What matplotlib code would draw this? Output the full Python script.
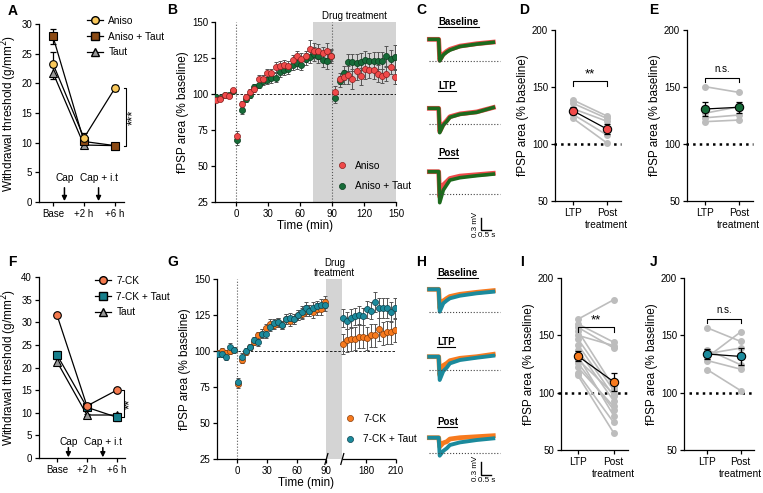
import numpy as np
import matplotlib
matplotlib.use('Agg')
import matplotlib.pyplot as plt
from matplotlib.lines import Line2D

plt.rcParams['font.family'] = ['Liberation Sans', 'DejaVu Sans']
plt.rcParams['font.size'] = 7
plt.rcParams['axes.linewidth'] = 0.9
plt.rcParams['xtick.major.size'] = 3
plt.rcParams['ytick.major.size'] = 3
plt.rcParams['xtick.major.width'] = 0.9
plt.rcParams['ytick.major.width'] = 0.9
plt.rcParams['xtick.major.pad'] = 2
plt.rcParams['ytick.major.pad'] = 2

W, H = 763, 493

################################################################
########################## Data ################################
################################################################

# A / F : withdrawal threshold
beh_labels = ['Base', '+2 h', '+6 h']
a_aniso = [23.3, 10.8, 19.2]
a_aniso_err = [2.0, 0.8, 0.5]
a_aniso_taut = [27.9, 10.2, 9.5]
a_aniso_taut_err = [1.2, 0.6, 0.4]
a_taut = [21.8, 9.6, 9.5]
a_taut_err = [1.0, 0.4, 0.4]

f_ck = [31.6, 11.5, 15.0]
f_ck_err = [0.5, 0.5, 0.5]
f_ck_taut = [22.8, 11.2, 9.0]
f_ck_taut_err = [0.8, 0.6, 0.8]
f_taut = [21.3, 9.5, 9.5]
f_taut_err = [0.5, 0.3, 0.5]

# B : time course (min)
b_t_pre = list(range(-19, 0, 4)) + list(range(1, 90, 4))
b_t_post = list(range(93, 150, 4))
b_aniso = [96.1, 96.5, 99.5, 98.4, 102.5,
           70.6, 92.8, 97.7, 101.6, 103.7, 110.4, 110.4, 114.6, 114.6, 119.0,
           119.2, 120.1, 119.2, 123.8, 126.2, 124.3, 126.2, 131.2, 130.1, 129.6,
           128.5, 130.1, 126.6,
           101.6, 110.6, 111.8, 113.2, 110.4, 115.7, 112.3, 117.6, 116.9, 116.4,
           114.1, 112.3, 113.9, 119.0, 111.8]
b_aniso_err = [1.5, 1.5, 1.5, 1.5, 1.5,
               3.5, 2.5, 2, 2, 2, 2.5, 2.5, 3, 3, 3.5, 3.5, 3.5, 3.5, 3.5, 4,
               4, 4, 6, 5, 5, 4, 5, 4,
               4, 4, 5, 6, 7, 6, 6, 7, 6, 6, 6, 5, 5, 5, 5]
b_aniso_taut = [97.7, 97.0, 99.1, 99.1, 102.1,
                67.8, 88.7, 96.5, 99.5, 104.9, 106.5, 108.8, 110.0, 110.9, 111.3,
                115.0, 116.9, 117.4, 120.1, 121.5, 120.4, 124.3, 125.7, 127.8, 126.6,
                123.8, 122.7, 126.2,
                97.2, 108.8, 114.6, 122.0, 122.0, 121.5, 122.5, 123.8, 122.7, 122.9,
                123.1, 123.1, 126.2, 124.3, 125.7]
b_aniso_taut_err = [1.5, 1.5, 1.5, 1.5, 1.5,
                    3, 2.5, 2, 2, 2, 2.5, 2.5, 3, 3, 3, 3.5, 3.5, 3.5, 3.5, 4,
                    4, 4, 4, 5, 5, 5, 5, 5,
                    3.5, 4, 5, 6, 6, 6, 6, 6, 6, 6, 6, 6, 7, 6, 8]

# G : time course, second segment after the axis break
g_t_pre = list(range(-19, 0, 4)) + list(range(1, 90, 4))
g_t_post = list(range(157, 210, 4))
g_ck = [98.5, 100, 98.5, 100, 101,
        77, 94, 99, 103, 106, 111, 112, 116, 119, 118, 120, 118, 122, 121,
        122, 125, 126, 128, 128, 127, 129, 129, 134,
        105, 107.5, 108, 108.5, 110, 110, 109, 111, 111, 115, 112, 113, 113, 114.5]
g_ck_err = [2, 2, 2, 2, 2,
            3, 2.5, 2, 2, 2, 2.5, 3, 3, 3, 3, 3, 3, 3.5, 3.5, 3.5, 3.5, 4,
            4, 4, 4, 4, 4, 4,
            7, 8, 8, 8, 8, 8, 8, 8, 8, 8, 8, 8, 8, 8]
g_ck_taut = [98, 98, 96, 103, 101,
             78.5, 96, 100, 102.5, 107.5, 106, 112, 112, 117, 119.5, 120, 118,
             122, 123, 122, 125, 127, 130, 128, 130, 131, 132, 132,
             123, 121, 123, 124, 125, 124, 129, 128, 134, 130, 130, 130, 127, 130]
g_ck_taut_err = [2, 2, 2, 2.5, 2,
                 2.5, 2.5, 2, 2, 2, 2.5, 3, 3, 3, 3, 3, 3, 3.5, 3.5, 3.5, 3.5,
                 4, 4, 4, 4, 4, 4, 4,
                 6, 6, 6, 6, 6, 6, 6, 6, 7, 7, 7, 7, 7, 7]
G_GAP = 50  # minutes removed by the axis break

# D, E, I, J : paired LTP vs post treatment
pair_labels = ['LTP', 'Post\ntreatment']
d_ltp = [138.6, 135.7, 131.0, 126.0, 122.5]
d_post = [124.6, 122.5, 120.0, 108.0, 101.0]
d_mean = [129.2, 113.2]
d_err = [3.0, 4.5]

e_ltp = [150.3, 127.0, 123.0, 119.6]
e_post = [145.3, 132.7, 125.4, 121.0]
e_mean = [130.7, 132.2]
e_err = [6.0, 5.0]

i_ltp = [164, 160, 157, 154, 150, 147, 142, 137, 129, 126, 122, 117, 115, 132]
i_post = [181, 144, 139, 105, 141, 102, 97, 93, 99, 85, 88, 74, 65, 80]
i_mean = [132.0, 109.5]
i_err = [4.0, 8.0]

j_ltp = [156.5, 131.0, 134.0, 137.5, 128.0, 120.0]
j_post = [144.7, 153.0, 138.9, 124.3, 120.5, 101.8]
j_mean = [133.7, 131.6]
j_err = [4.5, 7.5]

# C / H : example traces (s, mV relative to pre-stimulus level)
tr_t = [0.0, 0.47, 0.52, 0.7, 0.87, 1.03, 1.53, 2.37, 3.2]
c_base_aniso = [0, 0, -0.52, -0.37, -0.30, -0.25, -0.17, -0.11, -0.07]
c_base_taut = [0, 0, -0.54, -0.39, -0.32, -0.27, -0.18, -0.12, -0.075]
c_ltp_aniso = [0, 0, -0.58, -0.40, -0.31, -0.21, -0.14, -0.09, 0.02]
c_ltp_taut = [0, 0, -0.61, -0.42, -0.33, -0.225, -0.15, -0.10, 0.02]
c_post_aniso = [0, 0, -0.625, -0.33, -0.25, -0.17, -0.11, -0.075, -0.04]
c_post_taut = [0, 0, -0.775, -0.46, -0.33, -0.21, -0.15, -0.10, -0.06]
c_dots = [-0.54, -0.39, -0.567]

h_base_ck = [0, 0, -0.475, -0.29, -0.23, -0.18, -0.125, -0.075, -0.033]
h_base_taut = [0, 0, -0.56, -0.35, -0.28, -0.225, -0.16, -0.10, -0.06]
h_ltp_ck = [0, 0, -0.46, -0.22, -0.167, -0.10, -0.04, 0.0, 0.06]
h_ltp_taut = [0, 0, -0.583, -0.36, -0.275, -0.167, -0.083, -0.025, 0.025]
h_post_ck = [0, 0, -0.225, -0.13, -0.10, -0.033, 0.0, 0.025, 0.05]
h_post_taut = [0, 0, -0.45, -0.33, -0.267, -0.183, -0.117, -0.058, -0.017]
h_dots = [-0.56, -0.333, -0.375]

# colours
c_yellow = '#f9c85a'
c_brown = '#8b4a14'
c_gray_tri = '#9a9a9a'
c_red = '#f04a4a'
c_green = '#166b38'
c_coral = '#f57a4e'
c_teal = '#177f8c'
c_orange = '#f77a1e'
c_teal2 = '#1b8a9c'
c_shade = '#d4d4d4'
c_indiv = '#bdbdbd'

################################################################
######################### Functions ############################
################################################################

fig = plt.figure(figsize=(W / 100, H / 100), dpi=100)


def axpx(l, t, r, b):
    return fig.add_axes([l / W, 1 - b / H, (r - l) / W, (b - t) / H])


def fx(px):
    return px / W


def fy(py):
    return 1 - py / H


def clean(ax):
    ax.spines['top'].set_visible(False)
    ax.spines['right'].set_visible(False)
    ax.tick_params(labelsize=7)


def letter(px, py, s):
    fig.text(fx(px), fy(py), s, fontsize=10, fontweight='bold', va='center')


def behaviour(ax, series, xlim, ymax, step):
    for vals, err, mk, col in series:
        ax.errorbar(range(3), vals, yerr=err, fmt='-', color='k', lw=0.9,
                    capsize=2, elinewidth=0.9, capthick=0.9, zorder=2)
        ax.plot(range(3), vals, mk, mfc=col, mec='k', mew=0.8, ms=5.5,
                zorder=3)
    ax.set_xlim(*xlim)
    ax.set_ylim(0, ymax)
    ax.set_yticks(np.arange(0, ymax + 1, step))
    ax.set_xticks(range(3))
    ax.set_xticklabels(beh_labels)
    ax.set_ylabel('Withdrawal threshold (g/mm$^2$)', fontsize=8.5, labelpad=2)
    clean(ax)


def arrow(ax, x, txt, ytext, ytop):
    ax.annotate('', xy=(x, 0.15), xytext=(x, ytop),
                arrowprops=dict(arrowstyle='-|>', color='k', lw=1.1,
                                mutation_scale=7, shrinkA=0, shrinkB=0))
    ax.text(x, ytext, txt, ha='center', va='center', fontsize=7.3)


def bracket_v(ax, x, y0, y1, txt, xt):
    ax.plot([x - 0.07, x, x, x - 0.07], [y0, y0, y1, y1], color='k', lw=0.8,
            clip_on=False)
    ax.text(xt, (y0 + y1) / 2, txt, rotation=90, ha='center', va='center',
            fontsize=9.5)


def paired(ax, ltp, post, mean, err, col, ybr, txt, xr):
    for a, b in zip(ltp, post):
        ax.plot([0, 1], [a, b], '-o', color=c_indiv, ms=4, lw=1.2, zorder=1)
    ax.plot([-0.55, xr], [100, 100], ':', color='k', lw=1.8, zorder=0,
            clip_on=False)
    ax.errorbar([0, 1], mean, yerr=err, fmt='-', color='k', lw=0.9,
                capsize=2.5, elinewidth=0.9, capthick=0.9, zorder=3)
    ax.plot([0, 1], mean, 'o', mfc=col, mec='k', mew=0.8, ms=6, zorder=4)
    ax.plot([0, 0, 1, 1], [ybr - 4, ybr, ybr, ybr - 4], color='k', lw=0.8)
    if txt == 'n.s.':
        ax.text(0.5, ybr + 3, txt, ha='center', va='bottom', fontsize=7)
    else:
        ax.text(0.5, ybr + 1, txt, ha='center', va='bottom', fontsize=9.5)
    ax.set_ylim(50, 200)
    ax.set_yticks([50, 100, 150, 200])
    ax.set_xticks([0, 1])
    ax.set_xticklabels(pair_labels, fontsize=7.3)
    ax.set_ylabel('fPSP area (% baseline)', fontsize=8.5, labelpad=2)
    clean(ax)
    ax.tick_params(axis='x', labelsize=7.3)


def trace_panel(ax, sets, dots, flats, cols, widths):
    # 1 px = 0.05 s horizontally and 0.025 mV vertically
    ax.set_xlim((420 - 429.3) * 0.05, (530 - 429.3) * 0.05)
    ax.set_ylim(-248 * 0.025, 0)
    ax.axis('off')
    for (a, b), dot, fl in zip(sets, dots, flats):
        off = -fl * 0.025
        ax.plot(tr_t, np.array(a) + off, color=cols[0], lw=widths[0])
        ax.plot(tr_t, np.array(b) + off, color=cols[1], lw=widths[1])
        ax.plot([0, 3.55], [dot + off, dot + off], ':', color='#444444',
                lw=0.8)


def trace_labels(rows, sb_top, sb_y):
    wC = {'Baseline': 41, 'LTP': 18, 'Post': 20}
    for txt, px, py in rows:
        fig.text(fx(px), fy(py), txt, fontsize=7, fontweight='bold',
                 va='center')
        fig.add_artist(Line2D([fx(px), fx(px + wC[txt])],
                              [fy(py + 5), fy(py + 5)], color='k', lw=0.8))
    fig.add_artist(Line2D([fx(481), fx(481), fx(491)],
                          [fy(sb_top), fy(sb_y), fy(sb_y)], color='k', lw=1.0))
    fig.text(fx(475.5), fy((sb_top + sb_y) / 2), '0.3 mV', rotation=90,
             fontsize=5.8, ha='center', va='center')
    fig.text(fx(487), fy(sb_y + 6), '0.5 s', fontsize=5.8, ha='center',
             va='center')


################################################################
########################## Figure ##############################
################################################################

# ---- A ----
axA = axpx(39, 24, 124, 202)
behaviour(axA, [(a_taut, a_taut_err, '^', c_gray_tri),
                (a_aniso_taut, a_aniso_taut_err, 's', c_brown),
                (a_aniso, a_aniso_err, 'o', c_yellow)],
          (-0.45, 2.29), 30, 5)
arrow(axA, 0.37, 'Cap', 4.0, 2.4)
arrow(axA, 1.47, 'Cap + i.t', 4.0, 2.4)
bracket_v(axA, 2.35, 19.2, 9.5, '***', 2.58)
hA = [Line2D([], [], color='k', lw=0.9, marker=m, mfc=c, mec='k', ms=5.5)
      for m, c in [('o', c_yellow), ('s', c_brown), ('^', c_gray_tri)]]
fig.legend(hA, ['Aniso', 'Aniso + Taut', 'Taut'], loc='upper left',
           bbox_to_anchor=(fx(87), fy(16)), frameon=False, fontsize=7.3,
           handlelength=1.6, handletextpad=0.5, labelspacing=0.55,
           borderpad=0, borderaxespad=0)

# ---- B ----
axB = axpx(215, 22, 396, 202)
axB.axvspan(72, 150, color=c_shade, lw=0, zorder=0)
axB.axhline(100, color='k', ls='--', lw=0.6, dashes=(3, 2), zorder=1)
for xv in [0, 90]:
    axB.axvline(xv, color='#555555', ls=':', lw=0.8, zorder=1)
tB = b_t_pre + b_t_post
axB.errorbar(tB, b_aniso, yerr=b_aniso_err, fmt='none', ecolor='#555555',
             elinewidth=0.7, capsize=1.2, capthick=0.7, zorder=2)
axB.errorbar(tB, b_aniso_taut, yerr=b_aniso_taut_err, fmt='none',
             ecolor='#555555', elinewidth=0.7, capsize=1.2, capthick=0.7,
             zorder=2)
axB.plot(tB, b_aniso_taut, 'o', mfc=c_green, mec='#0b3d1e', mew=0.5, ms=4.4,
         zorder=3)
axB.plot(tB, b_aniso, 'o', mfc=c_red, mec='#8a1f1f', mew=0.5, ms=4.4,
         zorder=4)
axB.set_xlim(-20, 150)
axB.set_ylim(25, 150)
axB.set_xticks([0, 30, 60, 90, 120, 150])
axB.set_yticks([25, 50, 75, 100, 125, 150])
axB.set_xlabel('Time (min)', fontsize=8.5, labelpad=1)
axB.set_ylabel('fPSP area (% baseline)', fontsize=8.5, labelpad=2)
clean(axB)
axB.text(111, 151, 'Drug treatment', ha='center', va='bottom', fontsize=7)
hB = [Line2D([], [], ls='none', marker='o', mfc=c, mec=e, mew=0.5, ms=4.4)
      for c, e in [(c_red, '#8a1f1f'), (c_green, '#0b3d1e')]]
fig.legend(hB, ['Aniso', 'Aniso + Taut'], loc='upper left',
           bbox_to_anchor=(fx(338), fy(161)), frameon=False, fontsize=7.3,
           handlelength=0.8, handletextpad=0.9, labelspacing=1.0,
           borderpad=0, borderaxespad=0)

# ---- C ----
axC = axpx(420, 0, 530, 248)
trace_panel(axC, [(c_base_aniso, c_base_taut), (c_ltp_aniso, c_ltp_taut),
                  (c_post_aniso, c_post_taut)],
            c_dots, [39.3, 108.3, 171.7], (c_red, '#1d6a1d'), (3.4, 2.6))
trace_labels([('Baseline', 438, 22), ('LTP', 438, 86), ('Post', 438, 153)],
             218, 230)

# ---- D ----
axD = axpx(555, 30, 621, 201)
paired(axD, d_ltp, d_post, d_mean, d_err, c_red, 155, '**', 1.42)
axD.set_xlim(-0.53, 1.42)

# ---- E ----
axE = axpx(687, 30, 753, 201)
paired(axE, e_ltp, e_post, e_mean, e_err, c_green, 158, 'n.s.', 1.42)
axE.set_xlim(-0.53, 1.42)

# ---- F ----
axF = axpx(39, 277, 125, 458)
behaviour(axF, [(f_taut, f_taut_err, '^', c_gray_tri),
                (f_ck_taut, f_ck_taut_err, 's', c_teal),
                (f_ck, f_ck_err, 'o', c_coral)],
          (-0.6, 2.27), 40, 5)
arrow(axF, 0.38, 'Cap', 3.5, 2.3)
arrow(axF, 1.53, 'Cap + i.t', 3.5, 2.3)
bracket_v(axF, 2.24, 15.0, 9.0, '**', 2.45)
hF = [Line2D([], [], color='k', lw=0.9, marker=m, mfc=c, mec='k', ms=5.5)
      for m, c in [('o', c_coral), ('s', c_teal), ('^', c_gray_tri)]]
fig.legend(hF, ['7-CK', '7-CK + Taut', 'Taut'], loc='upper left',
           bbox_to_anchor=(fx(95), fy(276)), frameon=False, fontsize=7.3,
           handlelength=1.6, handletextpad=0.5, labelspacing=0.55,
           borderpad=0, borderaxespad=0)

# ---- G ----
axG = axpx(217, 279, 396, 459)
axG.axvspan(90, 106, color=c_shade, lw=0, zorder=0)
axG.plot([-20, 160], [100, 100], color='k', ls='--', lw=0.6, dashes=(3, 2),
         zorder=1)
axG.axvline(0, color='#555555', ls=':', lw=0.8, zorder=1)
tG = g_t_pre + [t - G_GAP for t in g_t_post]
axG.errorbar(tG, g_ck_taut, yerr=g_ck_taut_err, fmt='none', ecolor='#555555',
             elinewidth=0.7, capsize=1.2, capthick=0.7, zorder=2)
axG.errorbar(tG, g_ck, yerr=g_ck_err, fmt='none', ecolor='#555555',
             elinewidth=0.7, capsize=1.2, capthick=0.7, zorder=2)
axG.plot(tG, g_ck, 'o', mfc=c_orange, mec='#8a3d08', mew=0.5, ms=4.4, zorder=3)
axG.plot(tG, g_ck_taut, 'o', mfc=c_teal2, mec='#0c4450', mew=0.5, ms=4.4,
         zorder=4)
axG.set_xlim(-20, 160)
axG.set_ylim(25, 150)
axG.set_xticks([0, 30, 60, 90, 130, 160])
axG.set_xticklabels(['0', '30', '60', '90', '180', '210'])
axG.set_yticks([25, 50, 75, 100, 125, 150])
axG.set_xlabel('Time (min)', fontsize=8.5, labelpad=1)
axG.set_ylabel('fPSP area (% baseline)', fontsize=8.5, labelpad=2)
clean(axG)
axG.spines['bottom'].set_visible(False)
trG = axG.get_xaxis_transform()
for x0, x1 in [(-20, 90), (106, 160)]:
    axG.plot([x0, x1], [0, 0], color='k', lw=0.9, transform=trG,
             clip_on=False, solid_capstyle='butt')
for xb in [90, 106]:
    axG.plot([xb - 1.5, xb + 1.5], [-0.03, 0.03], color='k', lw=0.9,
             transform=trG, clip_on=False)
axG.text(98, 151, 'Drug\ntreatment', ha='center', va='bottom', fontsize=7,
         linespacing=1.0)
hG = [Line2D([], [], ls='none', marker='o', mfc=c, mec=e, mew=0.5, ms=4.4)
      for c, e in [(c_orange, '#8a3d08'), (c_teal2, '#0c4450')]]
fig.legend(hG, ['7-CK', '7-CK + Taut'], loc='upper left',
           bbox_to_anchor=(fx(346), fy(414)), frameon=False, fontsize=7.3,
           handlelength=0.8, handletextpad=0.9, labelspacing=1.0,
           borderpad=0, borderaxespad=0)

# ---- H ----
axH = axpx(420, 245, 530, 493)
trace_panel(axH, [(h_base_ck, h_base_taut), (h_ltp_ck, h_ltp_taut),
                  (h_post_ck, h_post_taut)],
            h_dots, [44.3, 111.7, 192.7], (c_orange, c_teal2), (3.4, 2.8))
trace_labels([('Baseline', 437, 273), ('LTP', 437, 342), ('Post', 437, 422)],
             462, 475)

# ---- I ----
axI = axpx(561, 278, 628, 450)
paired(axI, i_ltp, i_post, i_mean, i_err, c_orange, 157, '**', 1.4)
axI.set_xlim(-0.47, 1.4)

# ---- J ----
axJ = axpx(684, 278, 754, 450)
paired(axJ, j_ltp, j_post, j_mean, j_err, c_teal2, 164.5, 'n.s.', 1.4)
axJ.set_xlim(-0.7, 1.4)

# panel letters
for s, px, py in [('A', 8, 11), ('B', 167, 10), ('C', 416, 10), ('D', 519, 10),
                  ('E', 649, 10), ('F', 8, 262), ('G', 167, 262),
                  ('H', 416, 262), ('I', 520, 262), ('J', 650, 262)]:
    letter(px, py, s)

plt.savefig('out.png', dpi=100)
